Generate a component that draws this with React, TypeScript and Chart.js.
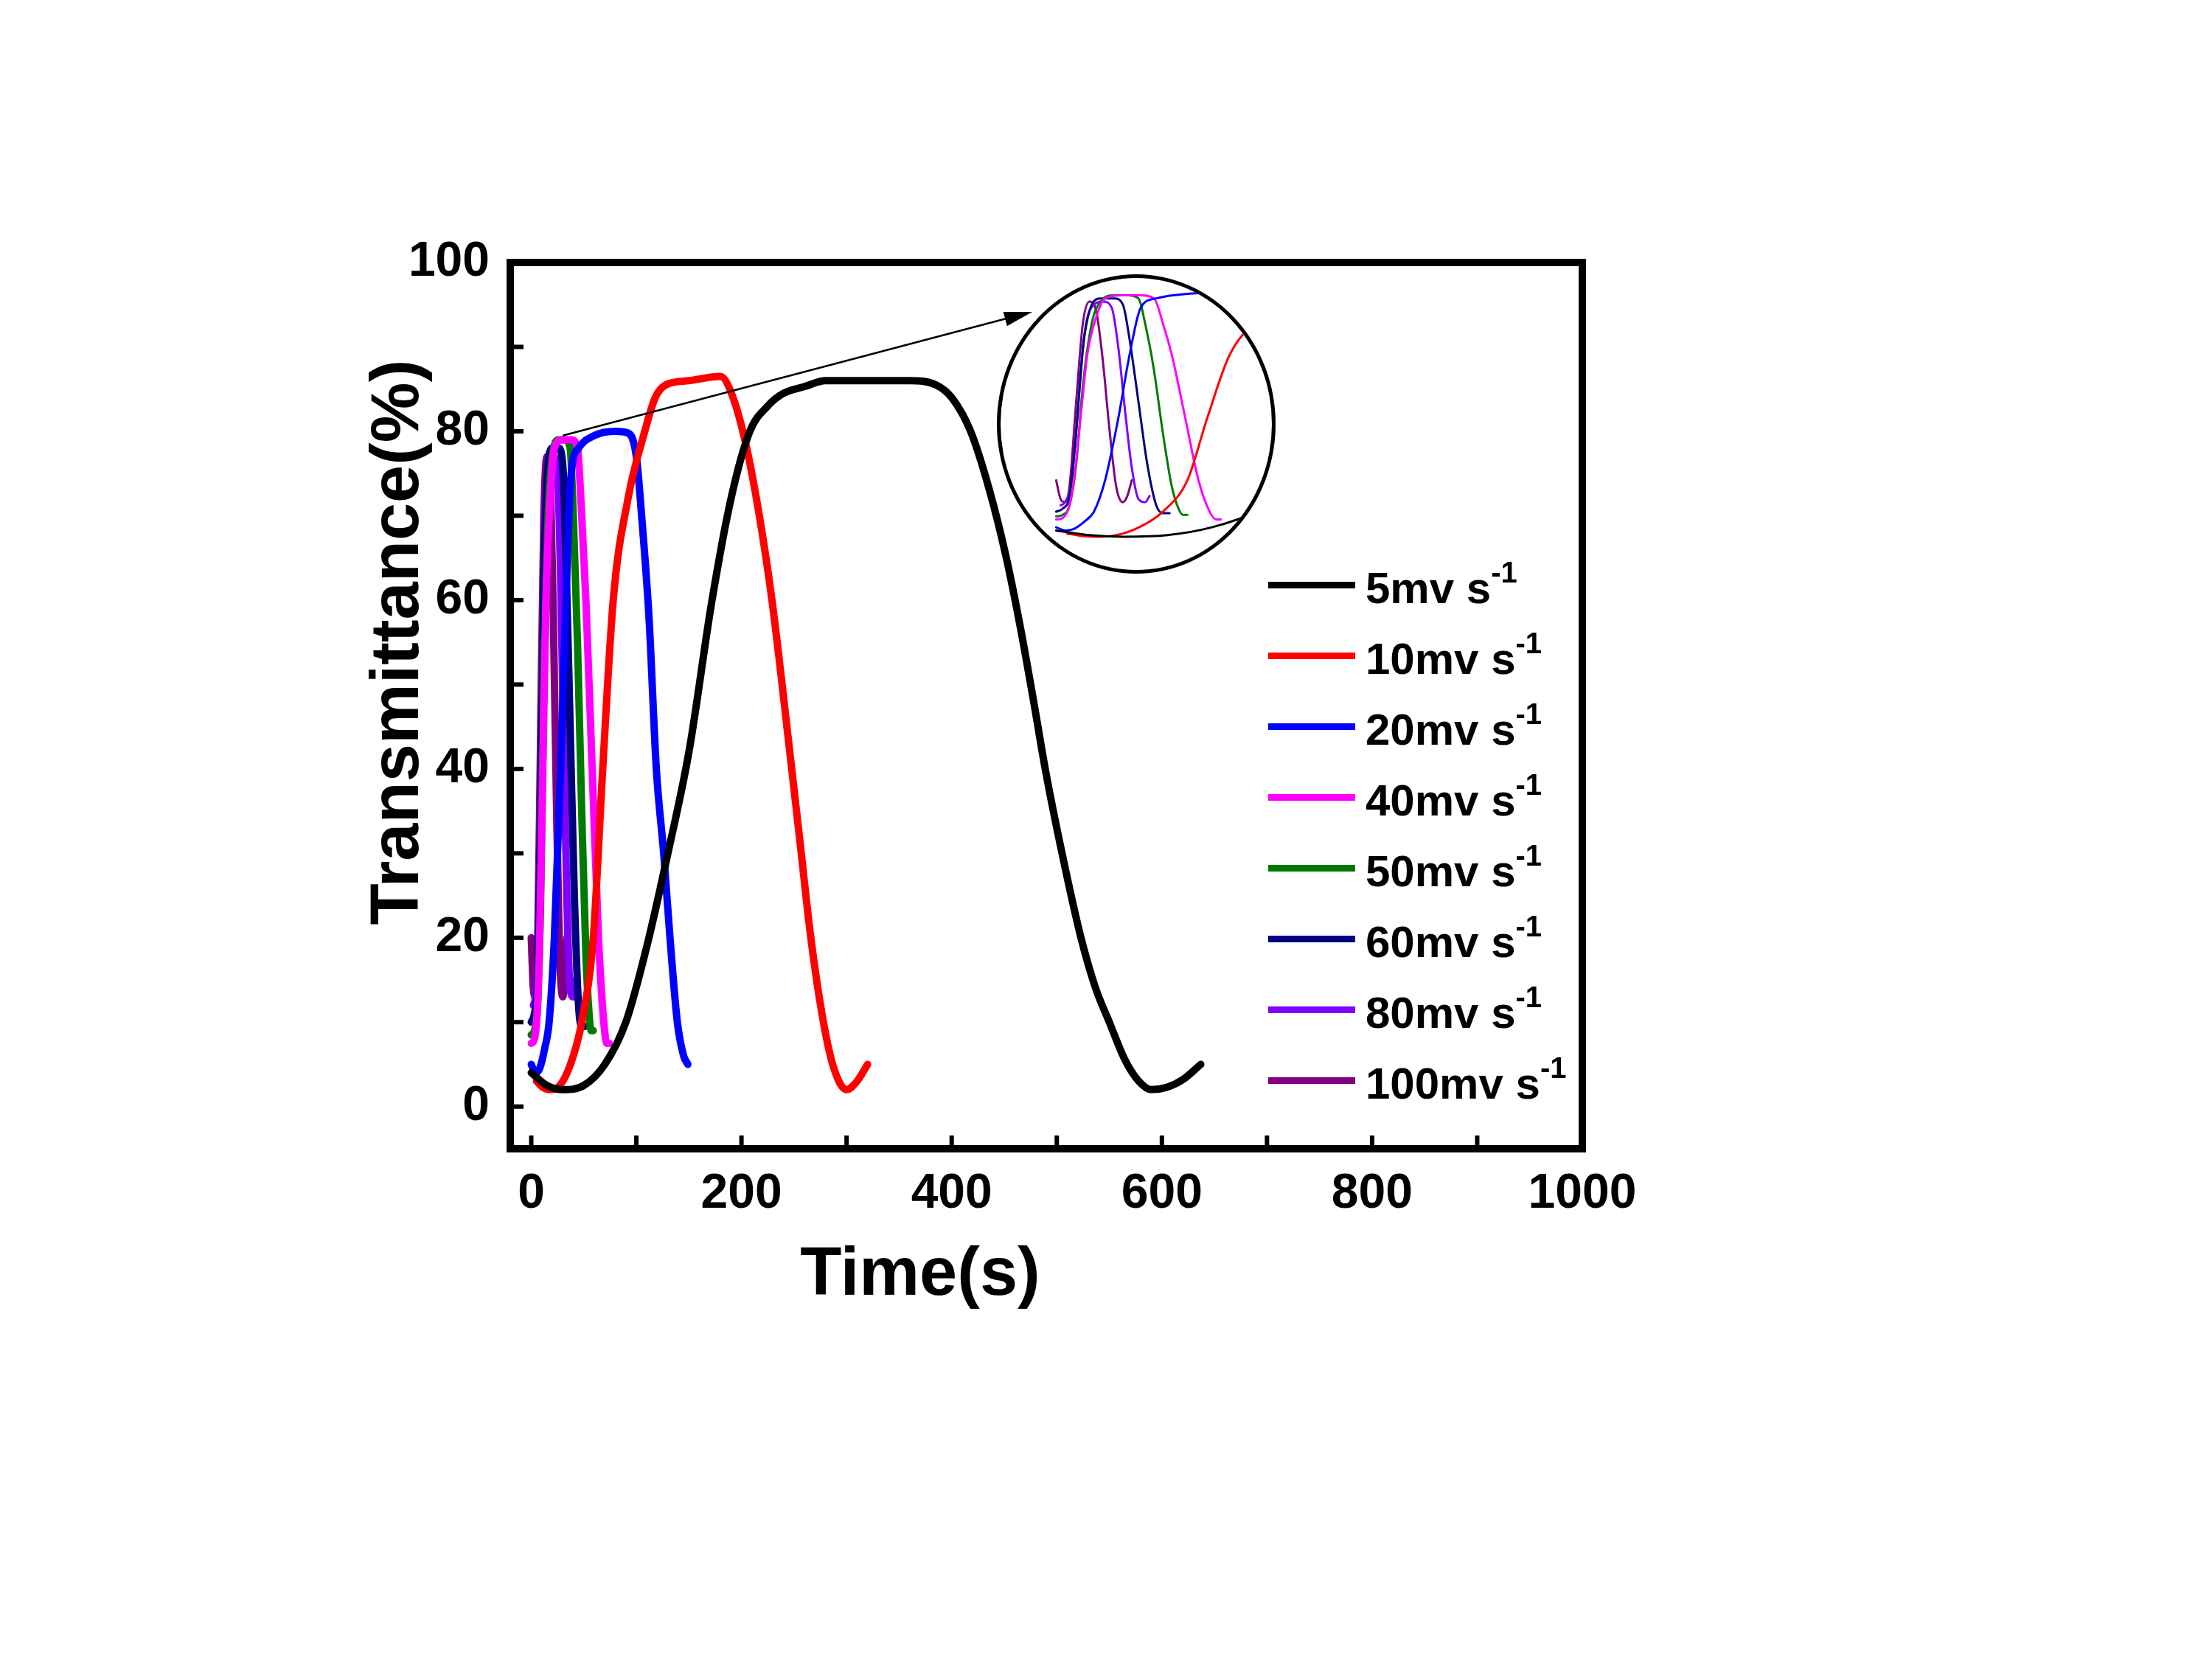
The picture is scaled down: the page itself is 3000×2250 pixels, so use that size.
import React, { useEffect, useRef } from "react";
import { Chart, registerables } from "chart.js";
Chart.register(...registerables);

const seriesNames = ["5mv s", "10mv s", "20mv s", "40mv s", "50mv s", "60mv s", "80mv s", "100mv s"];
const colors = ["#000000", "#ff0000", "#0000ff", "#ff00ff", "#007a00", "#000080", "#8000ff", "#800080"];

const t5 = [0, 15, 30, 50, 70, 90, 110, 130, 150, 172, 190, 208, 225, 240, 260, 280, 320, 360, 385, 400, 418, 436, 452, 465, 478, 489, 505, 523, 537, 550, 565, 578, 590, 605, 620, 637];
const v5 = [4, 2.5, 2, 2.5, 5, 10, 19, 30, 42, 60, 72, 80, 83, 84.5, 85.3, 86, 86, 86, 85.5, 84, 80, 73, 65, 57, 48, 40, 30, 20, 14, 10, 5.5, 3, 2, 2.3, 3.2, 5];
const t10 = [5, 12, 20, 30, 40, 48, 59, 68, 78, 92, 108, 118, 128, 150, 180, 192, 205, 217, 229, 246, 256, 266, 278, 288, 300, 310, 320];
const v10 = [3, 2.2, 2, 3, 6, 10, 20, 40, 60, 72, 80, 84, 85.5, 86, 86.5, 84, 78, 70, 60, 42, 31, 20, 10, 4.5, 2, 3, 5];
const t20 = [0, 4, 8, 13, 17, 22, 28, 33, 38, 45, 60, 80, 92, 100, 105, 112, 119, 126, 132, 139, 145, 149];
const v20 = [5, 4, 4.5, 7, 10, 20, 40, 60, 75, 78, 79.5, 80, 79.8, 77, 70, 58, 40, 30, 20, 10, 6, 5];
const t40 = [0, 3, 6, 8, 11, 14, 18, 22, 30, 38, 44, 48, 52, 58, 64, 69, 72, 74];
const v40 = [7.5, 8, 12, 20, 40, 60, 72, 78, 79, 79, 78, 70, 60, 40, 20, 10, 7.5, 7.5];
const t50 = [0, 3, 6, 9, 12, 16, 20, 26, 32, 37, 40, 44, 48, 52, 55, 57, 59];
const v50 = [8.5, 9, 12, 25, 50, 70, 77, 79, 79, 78, 70, 55, 35, 18, 11, 9, 9];
const t60 = [0, 3, 6, 9, 12, 15, 20, 26, 30, 33, 37, 41, 45, 48, 51];
const v60 = [10, 11, 15, 35, 62, 74, 78, 78, 76, 65, 45, 25, 12, 9.5, 9.5];
const t80 = [2, 4, 7, 10, 13, 17, 21, 25, 28, 31, 34, 37, 40, 42];
const v80 = [12, 13, 20, 45, 68, 76, 77, 75, 62, 42, 24, 14, 13, 15];
const t100 = [0, 2, 4, 6, 9, 12, 15, 18, 21, 24, 27, 30, 32, 34];
const v100 = [20, 14, 13, 18, 45, 70, 77, 74, 58, 36, 18, 13, 15, 20];

const times = [t5, t10, t20, t40, t50, t60, t80, t100];
const values = [v5, v10, v20, v40, v50, v60, v80, v100];

const xTickLabels = [0, 200, 400, 600, 800, 1000];
const yTickLabels = [0, 20, 40, 60, 80, 100];

const FONT = "'Liberation Sans', Arial, sans-serif";

function makeDatasets(width: number) {
  return seriesNames.map((n, i) => ({
    label: n,
    data: times[i].map((t, j) => ({ x: t, y: values[i][j] })),
    borderColor: colors[i],
    backgroundColor: colors[i],
    borderWidth: width,
    pointRadius: 0,
    cubicInterpolationMode: "monotone" as const,
    borderCapStyle: "round" as const,
    borderJoinStyle: "round" as const,
    fill: false,
  }));
}

const framePlugin = {
  id: "frame",
  afterDraw(chart: any) {
    const { ctx, chartArea: a, scales } = chart;
    const xs = scales.x, ys = scales.y;
    ctx.save();
    ctx.strokeStyle = "#000";
    ctx.lineWidth = 10;
    ctx.strokeRect(a.left, a.top, a.right - a.left, a.bottom - a.top);
    ctx.lineWidth = 6;
    for (let v = 0; v <= 1000; v += 100) {
      const px = xs.getPixelForValue(v);
      ctx.beginPath(); ctx.moveTo(px, a.bottom); ctx.lineTo(px, a.bottom - 18); ctx.stroke();
    }
    for (let v = 0; v <= 100; v += 10) {
      const py = ys.getPixelForValue(v);
      ctx.beginPath(); ctx.moveTo(a.left, py); ctx.lineTo(a.left + 18, py); ctx.stroke();
    }
    const sx = xs.getPixelForValue(30), sy = ys.getPixelForValue(79.5);
    const ex = 1400, ey = 423;
    ctx.lineWidth = 2.5;
    ctx.beginPath(); ctx.moveTo(sx, sy); ctx.lineTo(ex - 20, ey + 5); ctx.stroke();
    const ang = Math.atan2(ey - sy, ex - sx);
    ctx.fillStyle = "#000";
    ctx.beginPath();
    ctx.moveTo(ex, ey);
    ctx.lineTo(ex - 38 * Math.cos(ang) + 10 * Math.sin(ang), ey - 38 * Math.sin(ang) - 10 * Math.cos(ang));
    ctx.lineTo(ex - 38 * Math.cos(ang) - 10 * Math.sin(ang), ey - 38 * Math.sin(ang) + 10 * Math.cos(ang));
    ctx.closePath(); ctx.fill();
    ctx.fillStyle = "#000";
    ctx.font = `bold 92px ${FONT}`;
    ctx.textAlign = "center"; ctx.textBaseline = "middle";
    ctx.fillText("Time(s)", xs.getPixelForValue(370), 1731);
    ctx.translate(542, ys.getPixelForValue(55));
    ctx.rotate(-Math.PI / 2);
    ctx.fillText("Transmittance(%)", 0, 0);
    ctx.restore();
  },
};

function MainChart() {
  const ref = useRef<HTMLCanvasElement>(null);
  useEffect(() => {
    const c = new Chart(ref.current!, {
      type: "line",
      data: { datasets: makeDatasets(10) },
      options: {
        animation: false, responsive: false, devicePixelRatio: 1,
        layout: { padding: { left: 432, top: 356, right: 854, bottom: 542 } },
        plugins: { legend: { display: false }, tooltip: { enabled: false } },
        scales: {
          x: {
            type: "linear", min: -20, max: 1000,
            grid: { display: false, drawTicks: false }, border: { display: false },
            afterBuildTicks: (s: any) => { s.ticks = xTickLabels.map((v) => ({ value: v })); },
            afterFit: (s: any) => { s.height = 150; },
            ticks: { padding: 22, color: "#000", font: { family: FONT, weight: "bold", size: 66 }, callback: (v: any) => String(v) },
          },
          y: {
            type: "linear", min: -5, max: 100,
            grid: { display: false, drawTicks: false }, border: { display: false },
            afterBuildTicks: (s: any) => { s.ticks = yTickLabels.map((v) => ({ value: v })); },
            afterFit: (s: any) => { s.width = 260; },
            ticks: { padding: 28, color: "#000", font: { family: FONT, weight: "bold", size: 66 }, callback: (v: any) => String(v) },
          },
        },
      },
      plugins: [framePlugin],
    } as any);
    return () => c.destroy();
  }, []);
  return <canvas ref={ref} width={3000} height={2250} style={{ position: "absolute", left: 0, top: 0 }} />;
}

function InsetChart() {
  const ref = useRef<HTMLCanvasElement>(null);
  useEffect(() => {
    const c = new Chart(ref.current!, {
      type: "line",
      data: { datasets: makeDatasets(3) },
      options: {
        animation: false, responsive: false, devicePixelRatio: 1,
        layout: { padding: 0 },
        plugins: { legend: { display: false }, tooltip: { enabled: false } },
        scales: {
          x: { type: "linear", min: -25, max: 97, display: false },
          y: { type: "linear", min: -8.6, max: 84.5, display: false },
        },
      },
    } as any);
    return () => c.destroy();
  }, []);
  return (
    <div style={{ position: "absolute", left: 1352, top: 372, width: 378, height: 406, borderRadius: "50%", border: "5px solid #000", boxSizing: "border-box", overflow: "hidden", background: "#fff" }}>
      <canvas ref={ref} width={368} height={396} style={{ display: "block" }} />
    </div>
  );
}

function Legend() {
  return (
    <div style={{ position: "absolute", left: 1720, top: 745, fontFamily: FONT, fontWeight: "bold", fontSize: 60 }}>
      {seriesNames.map((n, i) => (
        <div key={n} style={{ display: "flex", alignItems: "center", height: 96 }}>
          <div style={{ width: 118, height: 9, background: colors[i], marginRight: 14 }} />
          <span>{n}<sup style={{ fontSize: 40, verticalAlign: "28px" }}>-1</sup></span>
        </div>
      ))}
    </div>
  );
}

export default function App() {
  return (
    <div style={{ position: "absolute", left: 0, top: 0, width: 3000, height: 2250, background: "#fff" }}>
      <MainChart />
      <InsetChart />
      <Legend />
    </div>
  );
}
